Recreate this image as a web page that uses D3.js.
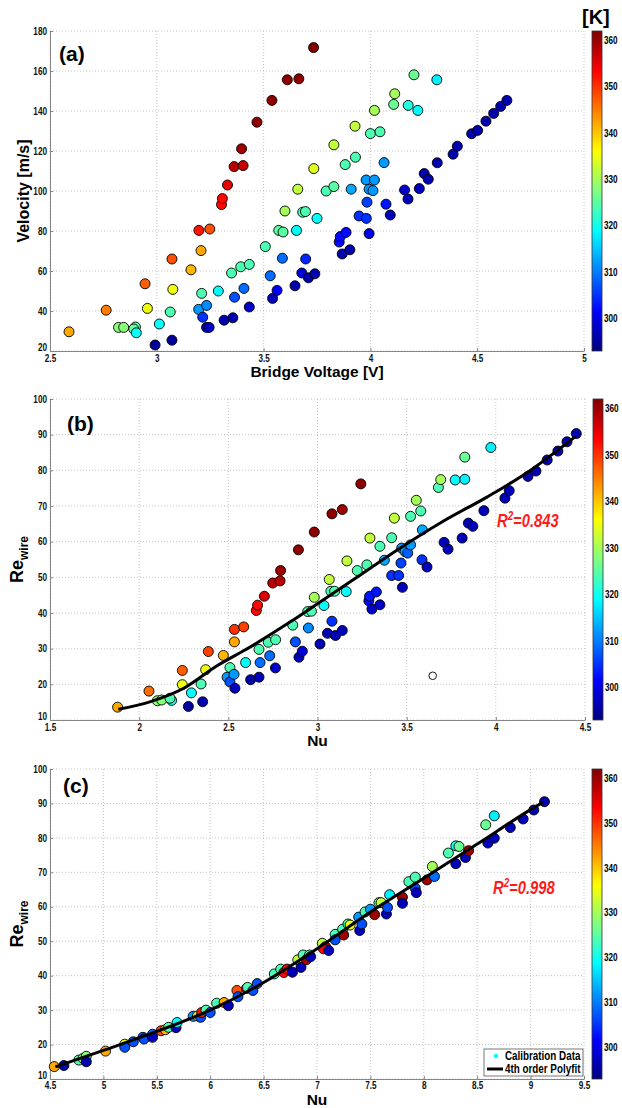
<!DOCTYPE html>
<html>
<head>
<meta charset="utf-8">
<script src="https://cdn.jsdelivr.net/npm/d3@7"></script>
<style>
  body { margin: 0; background: #fff; }
  svg { display: block; font-family: "Liberation Sans", Arial, sans-serif; font-weight: bold; }
  .grid { stroke: #c4c4c4; stroke-width: 1; stroke-dasharray: 1,2; }
</style>
</head>
<body>
<div id="chart"></div>
<script>
// ---- panel (a): velocity vs bridge voltage ----
const aVolt = [2.589, 2.763, 2.821, 2.845, 2.900, 2.892, 2.904, 2.945, 2.956, 2.992,
  3.012, 3.063, 3.071, 3.075, 3.071, 3.160, 3.197, 3.207, 3.248, 3.196,
  3.210, 3.215, 3.233, 3.233, 3.245, 3.288, 3.303, 3.307, 3.331, 3.315,
  3.350, 3.356, 3.364, 3.362, 3.404, 3.397, 3.393, 3.433, 3.408, 3.433,
  3.469, 3.508, 3.531, 3.539, 3.542, 3.563, 3.571, 3.591, 3.588, 3.600,
  3.611, 3.665, 3.647, 3.654, 3.660, 3.679, 3.683, 3.696, 3.697, 3.710,
  3.734, 3.735, 3.740, 3.750, 3.793, 3.829, 3.829, 3.882, 3.910, 3.928,
  3.930, 3.947, 3.981, 3.984, 3.980, 4.019, 3.994, 4.012, 3.994, 3.854,
  3.859, 3.886, 3.868, 3.904, 4.000, 4.045, 4.019, 4.064, 4.073, 4.093,
  4.109, 4.114, 4.177, 4.222, 4.204, 4.311, 4.160, 4.176, 4.229, 4.252,
  4.271, 4.313, 4.387, 4.407, 4.474, 4.502, 4.541, 4.577, 4.610, 4.639];
const aVel = [29.6, 40.4, 31.8, 31.8, 32.0, 31.0, 29.1, 53.6, 41.3, 23.0,
  33.5, 39.5, 66.0, 50.8, 25.4, 60.6, 80.3, 70.2, 81.0, 40.8,
  48.8, 36.9, 42.8, 31.8, 31.8, 50.0, 93.2, 96.2, 103.0, 35.4,
  59.0, 36.6, 46.9, 112.2, 112.7, 121.1, 62.1, 63.3, 51.3, 42.0,
  134.4, 72.2, 57.6, 145.3, 46.3, 50.3, 80.3, 79.5, 66.4, 90.0,
  155.6, 156.1, 52.6, 80.3, 100.9, 59.0, 89.4, 89.7, 66.0, 56.6,
  171.7, 111.2, 58.6, 86.3, 100.0, 102.2, 123.1, 113.2, 100.9, 132.4,
  116.9, 87.5, 86.3, 94.4, 105.5, 105.5, 100.9, 100.2, 78.7, 74.5,
  77.2, 79.3, 68.5, 70.6, 128.7, 129.6, 140.3, 114.2, 93.4, 88.0,
  143.3, 148.6, 142.8, 140.3, 158.1, 155.6, 100.5, 96.0, 101.2, 108.7,
  105.9, 114.1, 118.4, 122.4, 128.6, 130.3, 134.9, 138.8, 142.3, 145.3];
const aTemp = [342, 345, 328, 328, 325, 326, 319, 347, 335, 295,
  319, 324, 348, 335, 295, 341, 352, 342, 348, 312,
  324, 305, 311, 298, 298, 319, 353, 353, 355, 296,
  324, 296, 307, 358, 357, 360, 324, 324, 309, 298,
  361, 324, 309, 361, 297, 301, 325, 325, 309, 330,
  361, 361, 296, 319, 332, 299, 324, 324, 304, 296,
  362, 334, 296, 319, 324, 325, 332, 324, 313, 332,
  324, 305, 305, 306, 312, 312, 312, 312, 300, 302,
  302, 302, 296, 296, 324, 324, 330, 312, 303, 297,
  326, 330, 321, 319, 326, 318, 298, 297, 297, 296,
  296, 296, 296, 296, 296, 296, 296, 296, 296, 296];

// ---- panel (b): Re_wire vs Nu ----
const bNu = [1.879, 2.055, 2.102, 2.126, 2.182, 2.173, 2.242, 2.242, 2.276, 2.293,
  2.347, 2.356, 2.373, 2.388, 2.472, 2.509, 2.493, 2.509, 2.532, 2.537,
  2.534, 2.534, 2.586, 2.597, 2.625, 2.657, 2.664, 2.672, 2.678, 2.672,
  2.702, 2.724, 2.732, 2.749, 2.764, 2.765, 2.790, 2.793, 2.861, 2.876,
  2.893, 2.896, 2.915, 2.949, 2.945, 2.966, 2.982, 2.982, 3.014, 3.036,
  3.056, 3.066, 3.081, 3.075, 3.096, 3.101, 3.081, 3.139, 3.139, 3.161,
  3.165, 3.223, 3.243, 3.277, 3.288, 3.292, 3.305, 3.330, 3.350, 3.294,
  3.350, 3.375, 3.416, 3.416, 3.431, 3.455, 3.468, 3.476, 3.472, 3.491,
  3.506, 3.522, 3.522, 3.554, 3.579, 3.586, 3.614, 3.588, 3.678, 3.691,
  3.646, 3.710, 3.732, 3.772, 3.811, 3.826, 3.826, 3.846, 3.871, 3.933,
  3.972, 4.051, 4.075, 4.180, 4.225, 4.288, 4.348, 4.399, 4.451];
const bRe = [13.6, 18.1, 15.4, 15.6, 15.5, 16.1, 23.9, 19.9, 13.8, 17.6,
  20.1, 15.1, 24.1, 29.2, 28.1, 24.7, 22.0, 20.7, 22.8, 18.9,
  31.9, 35.4, 36.1, 26.1, 21.3, 40.7, 42.2, 29.8, 26.1, 22.0,
  44.7, 31.8, 28.0, 48.4, 24.6, 32.5, 49.0, 51.9, 36.6, 31.9,
  57.7, 27.6, 29.3, 35.8, 40.4, 40.5, 44.4, 62.7, 31.3, 42.1,
  34.3, 49.4, 37.7, 46.1, 46.1, 33.7, 67.8, 35.1, 69.0, 46.0,
  54.6, 51.9, 76.2, 53.5, 43.4, 44.7, 41.1, 45.9, 42.3, 61.0,
  58.7, 54.8, 50.5, 61.1, 66.6, 50.5, 54.0, 47.2, 58.2, 57.2,
  56.8, 59.1, 67.1, 71.6, 68.6, 54.9, 52.9, 63.3, 75.2, 77.4,
  22.4, 59.8, 57.9, 77.3, 61.0, 83.7, 77.5, 65.2, 64.3, 68.7,
  86.4, 72.2, 74.3, 78.3, 79.8, 82.9, 85.4, 88.0, 90.3];
const bTemp = [342, 346, 328, 328, 320, 324, 347, 335, 295, 319,
  324, 296, 335, 349, 341, 324, 312, 307, 312, 297,
  342, 350, 349, 319, 296, 353, 353, 324, 309, 297,
  356, 324, 309, 358, 298, 324, 358, 360, 324, 307,
  361, 297, 299, 311, 324, 324, 330, 361, 297, 319,
  297, 332, 305, 324, 324, 297, 361, 297, 360, 319,
  332, 324, 361, 324, 302, 303, 298, 303, 298, 332,
  324, 313, 305, 324, 332, 305, 306, 297, 312, 312,
  308, 312, 324, 330, 324, 305, 297, 313, 324, 330,
  NaN, 297, 297, 319, 297, 326, 318, 297, 297, 297,
  318, 297, 297, 296, 296, 296, 296, 296, 296];
const bFitNu = [1.883, 2.06, 2.25, 2.43, 2.62, 2.85, 3.0, 3.2, 3.46, 3.7, 3.95, 4.17, 4.444];
const bFitRe = [13.0, 15.1, 18.9, 25.0, 30.4, 37.6, 42.6, 49.3, 58.1, 65.6, 72.5, 79.2, 89.4];

// ---- panel (c): Re_wire vs corrected Nu ----
const cNu = [4.54, 4.63, 4.77, 4.81, 4.84, 4.84, 5.02, 5.20, 5.20, 5.28,
  5.37, 5.38, 5.46, 5.46, 5.54, 5.58, 5.61, 5.68, 5.69, 5.84,
  5.88, 5.91, 5.92, 5.96, 6.00, 6.06, 6.13, 6.17, 6.25, 6.26,
  6.34, 6.35, 6.40, 6.44, 6.60, 6.66, 6.69, 6.72, 6.77, 6.82,
  6.85, 6.87, 6.90, 6.93, 6.94, 7.05, 7.08, 7.06, 7.11, 7.17,
  7.17, 7.24, 7.25, 7.29, 7.31, 7.39, 7.40, 7.42, 7.45, 7.50,
  7.54, 7.58, 7.60, 7.65, 7.66, 7.68, 7.80, 7.80, 7.86, 7.92,
  7.92, 7.93, 8.03, 8.08, 8.10, 8.23, 8.30, 8.33, 8.30, 8.39,
  8.42, 8.58, 8.66, 8.60, 8.66, 8.81, 8.93, 9.03, 9.13];
const cRe = [13.6, 13.9, 15.5, 16.0, 16.6, 15.0, 18.1, 20.1, 19.2, 20.8,
  22.1, 21.6, 23.0, 22.1, 24.0, 24.3, 25.0, 24.9, 26.4, 28.2,
  28.3, 27.9, 29.3, 30.0, 29.3, 32.0, 32.2, 31.3, 35.7, 33.9,
  36.3, 36.6, 35.7, 37.7, 40.5, 41.9, 40.9, 41.9, 41.0, 44.6,
  42.4, 46.0, 44.6, 46.0, 45.5, 49.4, 48.4, 47.8, 47.3, 52.0,
  50.4, 53.5, 51.8, 55.0, 54.7, 57.0, 53.1, 55.0, 58.5, 59.3,
  57.7, 61.2, 61.2, 57.9, 59.8, 63.5, 62.8, 61.0, 67.3, 68.6,
  65.4, 64.1, 67.8, 71.7, 68.8, 75.6, 77.7, 77.5, 72.5, 74.3,
  76.3, 83.8, 86.4, 78.5, 79.9, 83.0, 85.5, 88.1, 90.5];
const cTemp = [342, 296, 324, 328, 328, 296, 342, 335, 307, 307,
  307, 307, 309, 297, 348, 341, 324, 297, 319, 312,
  338, 307, 352, 324, 307, 324, 342, 297, 348, 307,
  353, 324, 307, 307, 324, 324, 353, 353, 297, 332,
  297, 324, 360, 324, 297, 332, 360, 353, 297, 324,
  307, 324, 360, 324, 335, 312, 297, 307, 324, 312,
  360, 324, 332, 297, 307, 318, 360, 297, 324, 324,
  307, 297, 360, 330, 309, 324, 319, 326, 297, 297,
  360, 326, 318, 297, 297, 297, 297, 297, 296];
const cFitNu = [4.55, 5.0, 5.5, 6.0, 6.5, 7.0, 7.5, 8.0, 8.5, 9.0, 9.12];
const cFitRe = [13.5, 18.3, 23.8, 30.0, 38.0, 47.8, 58.5, 68.3, 78.2, 88.2, 90.4];

// ---- shared ticks ----
const aXTicks = [2.5, 3, 3.5, 4, 4.5, 5];
const aYTicks = [20, 40, 60, 80, 100, 120, 140, 160, 180];
const bXTicks = [1.5, 2, 2.5, 3, 3.5, 4, 4.5];
const cXTicks = [4.5, 5, 5.5, 6, 6.5, 7, 7.5, 8, 8.5, 9, 9.5];
const reTicks = [10, 20, 30, 40, 50, 60, 70, 80, 90, 100];
const tempTicks = [300, 310, 320, 330, 340, 350, 360];
const tempDomain = [293, 362];

const SQUEEZE = 0.82; // horizontal squeeze to mimic the narrow MATLAB font

/**
 * MATLAB-style jet colormap, t in [0, 1]
 */
function jet(t) {
  const c = (v) => Math.max(0, Math.min(1, v)) * 255;
  return d3.rgb(c(1.5 - Math.abs(4 * t - 3)), c(1.5 - Math.abs(4 * t - 2)), c(1.5 - Math.abs(4 * t - 1))).formatHex();
}

const tempScale = d3.scaleLinear().domain(tempDomain).range([0, 1]).clamp(true);
const tempColor = (T) => (isNaN(T) ? "#ffffff" : jet(tempScale(T)));

/**
 * Squeeze text horizontally around its own x anchor
 */
function squeeze(sel, k = SQUEEZE) {
  sel.each(function () {
    const t = d3.select(this);
    const x = +t.attr("x") || 0;
    t.attr("x", x / k).attr("transform", `scale(${k},1)`);
  });
}

// panel layout (pixel boxes)
const panels = [
  {
    id: "a", left: 50, right: 584, top: 31, bottom: 351,
    xDomain: [2.5, 5], yDomain: [20, 180], xTicks: aXTicks, yTicks: aYTicks,
    xs: aVolt, ys: aVel, ts: aTemp,
    xLabel: "Bridge Voltage [V]", yLabel: "Velocity [m/s]",
    tag: "(a)", tagX: 59, tagY: 61, cbLeft: 592, tickDy: 11,
  },
  {
    id: "b", left: 50, right: 585, top: 399, bottom: 720,
    xDomain: [1.5, 4.5], yDomain: [10, 100], xTicks: bXTicks, yTicks: reTicks,
    xs: bNu, ys: bRe, ts: bTemp, fitX: bFitNu, fitY: bFitRe,
    xLabel: "Nu", yLabel: "Re",
    tag: "(b)", tagX: 67, tagY: 431, cbLeft: 593, tickDy: 11,
    r2: "=0.843", r2X: 497, r2Y: 527,
  },
  {
    id: "c", left: 50, right: 584, top: 769, bottom: 1079,
    xDomain: [4.5, 9.5], yDomain: [10, 100], xTicks: cXTicks, yTicks: reTicks,
    xs: cNu, ys: cRe, ts: cTemp, fitX: cFitNu, fitY: cFitRe,
    xLabel: "Nu", yLabel: "Re",
    tag: "(c)", tagX: 63, tagY: 793, cbLeft: 592, tickDy: 10,
    r2: "=0.998", r2X: 493, r2Y: 894, legend: true,
  },
];

const svg = d3.select("#chart").append("svg").attr("width", 622).attr("height", 1108);

// one shared gradient for the colour bars
const grad = svg.append("defs").append("linearGradient")
  .attr("id", "jet-grad").attr("x1", "0%").attr("x2", "0%").attr("y1", "100%").attr("y2", "0%");
d3.range(0, 65).forEach((i) => {
  grad.append("stop").attr("offset", `${(i / 64) * 100}%`).attr("stop-color", jet(i / 64));
});

panels.forEach((p) => drawPanel(p));

/**
 * Draw a single scatter panel with grid, axes, fit, colour bar and labels
 */
function drawPanel(p) {
  const x = d3.scaleLinear().domain(p.xDomain).range([p.left, p.right]);
  const y = d3.scaleLinear().domain(p.yDomain).range([p.bottom, p.top]);
  const g = svg.append("g").attr("class", `panel-${p.id}`);
  const fmt = d3.format("~g");

  // dotted grid
  g.append("g").selectAll("line").data(p.xTicks).join("line")
    .attr("class", "grid")
    .attr("x1", (d) => x(d)).attr("x2", (d) => x(d))
    .attr("y1", p.top).attr("y2", p.bottom);
  g.append("g").selectAll("line").data(p.yTicks).join("line")
    .attr("class", "grid")
    .attr("x1", p.left).attr("x2", p.right)
    .attr("y1", (d) => y(d)).attr("y2", (d) => y(d));

  // axes (left + bottom only, inward ticks)
  const xAxis = g.append("g").attr("transform", `translate(0,${p.bottom})`)
    .call(d3.axisBottom(x).tickValues(p.xTicks).tickFormat(fmt).tickSizeInner(-3).tickSizeOuter(0).tickPadding(p.tickDy - 7));
  const yAxis = g.append("g").attr("transform", `translate(${p.left},0)`)
    .call(d3.axisLeft(y).tickValues(p.yTicks).tickFormat(fmt).tickSizeInner(-3).tickSizeOuter(0).tickPadding(3));
  [xAxis, yAxis].forEach((ax) => {
    ax.attr("font-family", null).attr("font-size", 10).attr("font-weight", "bold");
    ax.select(".domain").attr("stroke", "#858585");
    ax.selectAll(".tick line").attr("stroke", "#858585");
    ax.selectAll(".tick text").attr("fill", "#111").call(squeeze);
  });
  // lowest y label sits just above the corner, as in the original
  yAxis.selectAll(".tick text").filter((d) => d === p.yDomain[0]).attr("dy", "-0.05em");

  // scatter points
  const pts = d3.range(Math.min(p.xs.length, p.ys.length)).map((i) => ({ x: p.xs[i], y: p.ys[i], t: p.ts[i] }));
  g.append("g").selectAll("circle").data(pts).join("circle")
    .attr("cx", (d) => x(d.x)).attr("cy", (d) => y(d.y))
    .attr("r", (d) => (isNaN(d.t) ? 3.8 : 5))
    .attr("fill", (d) => tempColor(d.t))
    .attr("stroke", "#000").attr("stroke-width", 0.9);

  // polyfit curve
  if (p.fitX) {
    const fit = p.fitX.map((v, i) => [v, p.fitY[i]]);
    g.append("path").datum(fit)
      .attr("d", d3.line().x((d) => x(d[0])).y((d) => y(d[1])).curve(d3.curveMonotoneX))
      .attr("fill", "none").attr("stroke", "#000").attr("stroke-width", 3);
  }

  // colour bar
  const cb = d3.scaleLinear().domain(tempDomain).range([p.bottom, p.top]);
  g.append("rect")
    .attr("x", p.cbLeft).attr("y", p.top).attr("width", 10).attr("height", p.bottom - p.top)
    .attr("fill", "url(#jet-grad)").attr("stroke", "#333").attr("stroke-width", 0.8);
  const cbAxis = g.append("g").attr("transform", `translate(${p.cbLeft + 10},0)`)
    .call(d3.axisRight(cb).tickValues(tempTicks).tickSize(0).tickPadding(2));
  cbAxis.attr("font-family", null).attr("font-size", 10).attr("font-weight", "bold");
  cbAxis.select(".domain").remove();
  cbAxis.selectAll(".tick text").call(squeeze);

  // panel tag
  g.append("text").attr("x", p.tagX).attr("y", p.tagY)
    .attr("font-size", 21).text(p.tag);

  // axis labels
  g.append("text")
    .attr("x", (p.left + p.right) / 2).attr("y", p.bottom + 26)
    .attr("text-anchor", "middle").attr("font-size", 15.5).text(p.xLabel);

  const yl = g.append("text")
    .attr("transform", `translate(${p.id === "a" ? 29 : 23},${(p.top + p.bottom) / 2}) rotate(-90)`)
    .attr("text-anchor", "middle");
  if (p.id === "a") {
    yl.attr("font-size", 16).text(p.yLabel);
  } else {
    yl.append("tspan").attr("font-size", 18).text(p.yLabel);
    yl.append("tspan").attr("font-size", 12).attr("dy", 5).text("wire");
  }

  // R^2 annotation
  if (p.r2) {
    const t = g.append("text").attr("x", p.r2X).attr("y", p.r2Y)
      .attr("font-size", 18).attr("font-style", "italic").attr("fill", "#ff1a1a");
    t.append("tspan").text("R");
    t.append("tspan").attr("font-size", 12).attr("dy", -7).text("2");
    t.append("tspan").attr("dy", 7).text(p.r2);
    squeeze(t);
  }

  if (p.id === "a") {
    g.append("text").attr("x", 582).attr("y", 24).attr("font-size", 20).text("[K]");
  }

  // legend
  if (p.legend) {
    const lg = g.append("g").attr("font-size", 12);
    lg.append("rect").attr("x", 484).attr("y", 1049).attr("width", 99).attr("height", 27)
      .attr("fill", "#fff").attr("stroke", "#555").attr("stroke-width", 0.8);
    lg.append("circle").attr("cx", 496).attr("cy", 1056).attr("r", 2.2).attr("fill", tempColor(319));
    lg.append("line").attr("x1", 487).attr("x2", 503).attr("y1", 1069).attr("y2", 1069)
      .attr("stroke", "#000").attr("stroke-width", 3);
    lg.append("text").attr("x", 505).attr("y", 1060).text("Calibration Data").call(squeeze);
    lg.append("text").attr("x", 505).attr("y", 1073).text("4th order Polyfit").call(squeeze);
  }
}
</script>
</body>
</html>
